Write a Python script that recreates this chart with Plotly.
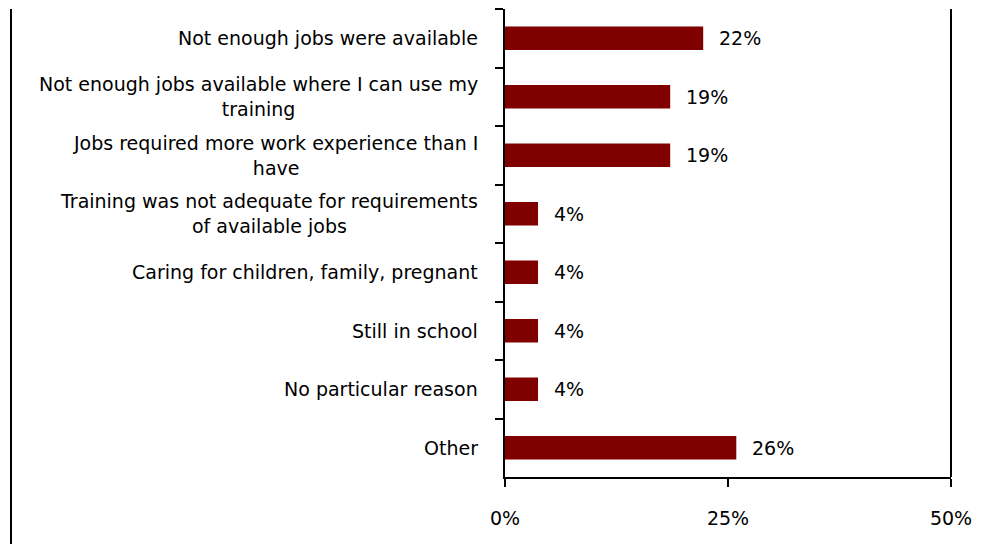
import plotly.graph_objects as go

# Reasons given (top to bottom) and share of respondents, in percent
reasons = [
    "Not enough jobs were available",
    "Not enough jobs available where I can use my<br>training",
    "Jobs required more work experience than I<br>have",
    "Training was not adequate for requirements<br>of available jobs",
    "Caring for children, family, pregnant",
    "Still in school",
    "No particular reason",
    "Other",
]
shares = [22.22, 18.52, 18.52, 3.70, 3.70, 3.70, 3.70, 25.93]

x_ticks = [0, 25, 50]
x_tick_labels = ["0%", "25%", "50%"]

FONT = "DejaVu Sans"
BAR_COLOR = "#800000"

fig = go.Figure(
    go.Bar(
        x=shares,
        y=reasons,
        orientation="h",
        marker=dict(color=BAR_COLOR, line=dict(width=0)),
        hoverinfo="skip",
    )
)

annotations = []
# value labels to the right of each bar
for r, v in zip(reasons, shares):
    annotations.append(dict(
        x=v, y=r, xref="x", yref="y",
        text=f"{v:.0f}%", showarrow=False,
        xanchor="left", yanchor="middle", xshift=14,
        font=dict(family=FONT, size=19, color="#000000"),
    ))
# category labels, centred line by line and right-aligned as a block
for r in reasons:
    annotations.append(dict(
        x=0, y=r, xref="paper", yref="y",
        text=r, showarrow=False, align="center",
        xanchor="right", yanchor="middle", xshift=-25,
        font=dict(family=FONT, size=19, color="#000000"),
    ))

fig.update_layout(
    width=989, height=544,
    margin=dict(l=505, r=38, t=9, b=67),
    paper_bgcolor="white", plot_bgcolor="white",
    bargap=0.6,
    showlegend=False,
    font=dict(family=FONT, size=19, color="#000000"),
    xaxis=dict(
        range=[0, 50],
        tickvals=x_ticks, ticktext=x_tick_labels,
        showgrid=False, zeroline=False,
        showline=True, linecolor="#000000", linewidth=2,
        ticks="outside", ticklen=8, tickwidth=2, tickcolor="#000000",
        ticklabelstandoff=15,
        tickfont=dict(family=FONT, size=19, color="#000000"),
        fixedrange=True,
    ),
    yaxis=dict(
        categoryorder="array", categoryarray=reasons,
        autorange="reversed",
        showticklabels=False,
        showgrid=False, zeroline=False,
        showline=True, linecolor="#000000", linewidth=2,
        ticks="outside", tickson="boundaries", ticklen=8, tickwidth=2,
        tickcolor="#000000",
        fixedrange=True,
    ),
    annotations=annotations,
    shapes=[
        # right edge of the plotting area
        dict(type="line", xref="paper", yref="paper",
             x0=1, x1=1, y0=0, y1=1,
             line=dict(color="#000000", width=2)),
        # outer chart frame on the left
        dict(type="line", xref="paper", yref="paper",
             xsizemode="pixel", xanchor=0, x0=-494, x1=-494,
             ysizemode="pixel", yanchor=1, y0=0, y1=-545,
             line=dict(color="#000000", width=2)),
    ],
)

fig.write_html("out.html")
